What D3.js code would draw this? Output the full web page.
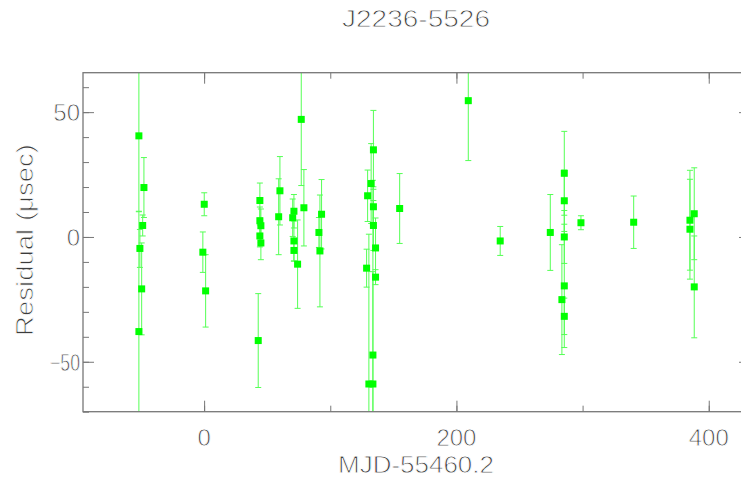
<!DOCTYPE html>
<html>
<head>
<meta charset="utf-8">
<script src="https://cdn.jsdelivr.net/npm/d3@7"></script>
<style>
  html, body { margin: 0; padding: 0; background: #fff; }
  svg { display: block; }
  text {
    font-family: "Liberation Sans", "DejaVu Sans", sans-serif;
    fill: #3c3c3c;
    stroke: #fff; stroke-width: 0.85px; paint-order: fill stroke;
  }
</style>
</head>
<body>
<svg id="chart" width="741" height="495"></svg>
<script>
// Timing residuals for PSR J2236-5526
const titleText = "J2236-5526";
const xLabel = "MJD-55460.2";
const yLabel = "Residual (\u03bcsec)";

// days since MJD 55460.2
const mjd = [
  -51.7, -51.7, -50.9, -49.5, -48.7, -47.7,
  0.1, -1.0, 1.2,
  44.2, 44.2, 45.0, 44.2, 45.0, 42.9,
  60.1, 59.1,
  71.2, 70.2, 71.2, 71.2, 74.1,
  77.0, 79.1,
  93.1, 91.0, 91.8,
  129.6, 128.8, 132.4, 134.2, 134.2, 134.2, 135.9, 135.9, 133.8, 130.6, 133.8,
  155.0,
  209.4, 234.7, 274.4,
  285.5, 285.5, 285.5, 285.5, 283.6, 285.5,
  298.7, 340.5,
  385.1, 385.1, 388.5, 388.5
];
// residuals, microseconds
const residual = [
  40.5, -37.9, -4.6, -20.8, 4.6, 19.8,
  13.1, -6.1, -21.6,
  14.6, 6.5, 4.5, 0.4, -2.4, -41.5,
  18.5, 8.1,
  10.3, 7.7, -1.6, -5.4, -10.9,
  47.1, 11.7,
  9.1, 1.8, -5.6,
  16.5, -12.5, 21.4, 34.9, 12.1, 4.6, -4.4, -16.1, -47.3, -58.9, -58.9,
  11.4,
  54.6, -1.6, 1.8,
  25.5, 14.5, 0.0, -19.6, -25.1, -31.8,
  5.7, 5.9,
  6.7, 3.1, 9.3, -20.0
];
// 1-sigma uncertainties, microseconds
const uncertainty = [
  30.2, 48.0, 7.6, 18.4, 4.2, 12.0,
  4.6, 8.1, 14.5,
  7.0, 5.5, 6.7, 4.4, 6.7, 18.8,
  13.7, 15.2,
  6.7, 7.5, 8.0, 4.3, 17.7,
  26.5, 15.3,
  13.9, 6.0, 22.4,
  10.3, 7.6, 16.0, 15.8, 8.0, 10.0, 12.0, 3.0, 70.0, 60.0, 45.0,
  14.0,
  24.0, 5.8, 15.2,
  16.8, 12.3, 10.6, 24.7, 22.0, 7.3,
  2.8, 10.5,
  20.0, 20.0, 18.4, 20.4
];

const xTickLabels = [0, 200, 400];
const xMinorTicks = [-100, 0, 100, 200, 300, 400];
const yTickLabels = [-50, 0, 50];
const yMinorTicks = d3.range(-70, 70, 10);

const svg = d3.select("#chart");
const frame = { left: 83, right: 750, top: 72.7, bottom: 411.7 };

const x = d3.scaleLinear().domain([-96, 432.7]).range([frame.left, frame.right]);
const y = d3.scaleLinear().domain([-70, 65.8]).range([frame.bottom, frame.top]);

const pts = mjd.map((d, i) => ({ t: d, r: residual[i], e: uncertainty[i] }));

// clip the data to the plotting box
svg.append("clipPath").attr("id", "box")
  .append("rect")
  .attr("x", frame.left).attr("y", frame.top)
  .attr("width", frame.right - frame.left).attr("height", frame.bottom - frame.top);

const data = svg.append("g").attr("clip-path", "url(#box)");
const barColor = "#55ff55";
const cap = 3;

const bars = data.selectAll("g.err").data(pts).join("g").attr("class", "err")
  .attr("stroke", barColor).attr("stroke-width", 1);
bars.append("line")
  .attr("x1", d => x(d.t)).attr("x2", d => x(d.t))
  .attr("y1", d => y(d.r + d.e)).attr("y2", d => y(d.r - d.e));
bars.append("line")
  .attr("x1", d => x(d.t) - cap).attr("x2", d => x(d.t) + cap)
  .attr("y1", d => y(d.r + d.e)).attr("y2", d => y(d.r + d.e));
bars.append("line")
  .attr("x1", d => x(d.t) - cap).attr("x2", d => x(d.t) + cap)
  .attr("y1", d => y(d.r - d.e)).attr("y2", d => y(d.r - d.e));

const sq = 7;
data.selectAll("rect.pt").data(pts).join("rect").attr("class", "pt")
  .attr("x", d => x(d.t) - sq / 2).attr("y", d => y(d.r) - sq / 2)
  .attr("width", sq).attr("height", sq)
  .attr("fill", "#00ff00");

// frame and inward ticks on all four sides
const axisColor = "#777";
function styleAxis(g) {
  g.select(".domain").remove();
  g.selectAll(".tick line").attr("stroke", axisColor);
  g.selectAll(".tick text").remove();
}
const inside = x.domain()[0];
const major = 11, minor = 6;

svg.append("g").attr("transform", `translate(0,${frame.bottom})`)
  .call(d3.axisBottom(x).tickValues(xMinorTicks.filter(v => v > inside)).tickSize(-minor)).call(styleAxis);
svg.append("g").attr("transform", `translate(0,${frame.bottom})`)
  .call(d3.axisBottom(x).tickValues(xTickLabels).tickSize(-major)).call(styleAxis);
svg.append("g").attr("transform", `translate(0,${frame.top})`)
  .call(d3.axisTop(x).tickValues(xMinorTicks.filter(v => v > inside)).tickSize(-minor)).call(styleAxis);
svg.append("g").attr("transform", `translate(0,${frame.top})`)
  .call(d3.axisTop(x).tickValues(xTickLabels).tickSize(-major)).call(styleAxis);

svg.append("g").attr("transform", `translate(${frame.left},0)`)
  .call(d3.axisLeft(y).tickValues(yMinorTicks).tickSize(-minor)).call(styleAxis);
svg.append("g").attr("transform", `translate(${frame.left},0)`)
  .call(d3.axisLeft(y).tickValues(yTickLabels).tickSize(-major)).call(styleAxis);
svg.append("g").attr("transform", `translate(${frame.right},0)`)
  .call(d3.axisRight(y).tickValues(yMinorTicks).tickSize(-minor)).call(styleAxis);
svg.append("g").attr("transform", `translate(${frame.right},0)`)
  .call(d3.axisRight(y).tickValues(yTickLabels).tickSize(-major)).call(styleAxis);

svg.append("rect")
  .attr("x", frame.left).attr("y", frame.top)
  .attr("width", frame.right - frame.left).attr("height", frame.bottom - frame.top)
  .attr("fill", "none").attr("stroke", axisColor).attr("stroke-width", 1.3);

// tick labels
const fs = 24;
svg.append("g").selectAll("text").data(xTickLabels).join("text")
  .attr("x", d => x(d)).attr("y", 446)
  .attr("text-anchor", "middle").attr("font-size", fs)
  .text(d => String(d));

svg.append("g").selectAll("text").data(yTickLabels).join("text")
  .attr("x", 80).attr("y", d => y(d) + 9)
  .attr("text-anchor", "end").attr("font-size", fs)
  .each(function (d) { if (d < 0) d3.select(this).attr("textLength", 30).attr("lengthAdjust", "spacingAndGlyphs"); })
  .text(d => d < 0 ? "\u2212" + Math.abs(d) : String(d));

// titles
svg.append("text").attr("x", 416).attr("y", 27)
  .attr("text-anchor", "middle").attr("font-size", fs)
  .attr("textLength", 148).attr("lengthAdjust", "spacingAndGlyphs")
  .text(titleText);

svg.append("text").attr("x", 416).attr("y", 473)
  .attr("text-anchor", "middle").attr("font-size", fs)
  .attr("textLength", 156).attr("lengthAdjust", "spacingAndGlyphs")
  .text(xLabel);

svg.append("text")
  .attr("transform", "translate(33,240) rotate(-90)")
  .attr("text-anchor", "middle").attr("font-size", fs)
  .attr("textLength", 192).attr("lengthAdjust", "spacingAndGlyphs")
  .text(yLabel);
</script>
</body>
</html>
